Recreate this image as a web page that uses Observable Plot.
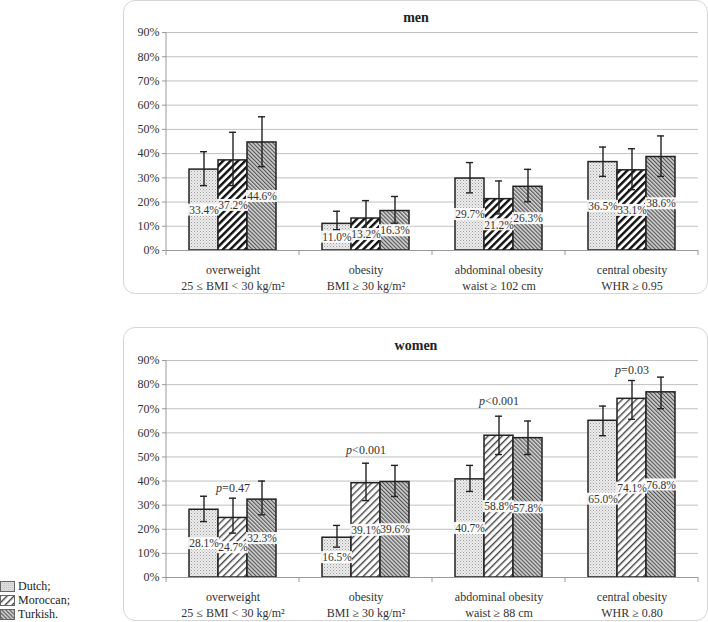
<!DOCTYPE html>
<html><head><meta charset="utf-8">
<script src="https://cdn.jsdelivr.net/npm/d3@7"></script>
<script src="https://cdn.jsdelivr.net/npm/@observablehq/plot@0.6"></script>
<style>
body{margin:0;background:#fff;font-family:"Liberation Serif",serif;}
#root{position:relative;width:708px;height:622px;overflow:hidden;background:#fff;}
.box{position:absolute;border:1px solid #d6d6d6;border-radius:12px;box-sizing:border-box;}
.title{position:absolute;font-weight:bold;font-size:14px;color:#222;transform:translate(-50%,-50%);white-space:nowrap;}
.chart{position:absolute;}
.lg{position:absolute;left:0;font-size:12px;color:#222;display:flex;align-items:center;white-space:nowrap;}
.lg svg{margin-right:2px;}
</style></head><body>
<svg width="0" height="0" style="position:absolute">
<defs>
<pattern id="dots" patternUnits="userSpaceOnUse" width="3" height="3">
  <rect width="3" height="3" fill="#ededed"/>
  <rect x="0" y="0" width="1" height="1" fill="#9a9a9a"/>
  <rect x="1.5" y="1.5" width="1" height="1" fill="#b4b4b4"/>
</pattern>
<pattern id="swDutch" patternUnits="userSpaceOnUse" width="2" height="2">
  <rect width="2" height="2" fill="#dcdcdc"/>
  <rect width="1" height="1" fill="#c8c8c8"/>
</pattern>
<pattern id="stripesMen" patternUnits="userSpaceOnUse" width="5.2" height="5.2" patternTransform="rotate(45)">
  <rect width="5.2" height="5.2" fill="#ffffff"/>
  <rect width="2.4" height="5.2" fill="#111111"/>
</pattern>
<pattern id="stripesWomen" patternUnits="userSpaceOnUse" width="5" height="5" patternTransform="rotate(45)">
  <rect width="5" height="5" fill="#ffffff"/>
  <rect width="1.4" height="5" fill="#444444"/>
</pattern>
<pattern id="hatchT" patternUnits="userSpaceOnUse" width="2.8" height="2.8" patternTransform="rotate(-45)">
  <rect width="2.8" height="2.8" fill="#d6d6d6"/>
  <rect width="1.2" height="2.8" fill="#555555"/>
</pattern>
</defs>
</svg>
<div id="root"></div>
<script>
// ---------- data ----------
const categories = ["overweight", "obesity", "abdominal", "central"];
const groups = ["Dutch", "Moroccan", "Turkish"];
const legendLabels = ["Dutch;", "Moroccan;", "Turkish."];
const menCategoryLabels = [
  "overweight\n25 ≤ BMI < 30 kg/m²",
  "obesity\nBMI ≥ 30 kg/m²",
  "abdominal obesity\nwaist ≥ 102 cm",
  "central obesity\nWHR ≥ 0.95"
];
const womenCategoryLabels = [
  "overweight\n25 ≤ BMI < 30 kg/m²",
  "obesity\nBMI ≥ 30 kg/m²",
  "abdominal obesity\nwaist ≥ 88 cm",
  "central obesity\nWHR ≥ 0.80"
];
const yTicks = [0, 10, 20, 30, 40, 50, 60, 70, 80, 90];

const menDutch = [33.4, 11.0, 29.7, 36.5];
const menMoroccan = [37.2, 13.2, 21.2, 33.1];
const menTurkish = [44.6, 16.3, 26.3, 38.6];
const menDutchLow = [26.8, 8.6, 23.8, 30.6];
const menDutchHigh = [40.8, 16.2, 36.3, 42.7];
const menMoroccanLow = [26.8, 8.0, 15.1, 25.1];
const menMoroccanHigh = [48.8, 20.6, 28.7, 42.0];
const menTurkishLow = [34.6, 11.3, 20.1, 30.6];
const menTurkishHigh = [55.2, 22.3, 33.5, 47.3];

const womenDutch = [28.1, 16.5, 40.7, 65.0];
const womenMoroccan = [24.7, 39.1, 58.8, 74.1];
const womenTurkish = [32.3, 39.6, 57.8, 76.8];
const womenDutchLow = [23.2, 12.6, 35.7, 58.8];
const womenDutchHigh = [33.7, 21.6, 46.5, 71.1];
const womenMoroccanLow = [18.4, 31.9, 51.0, 65.6];
const womenMoroccanHigh = [32.9, 47.4, 66.9, 81.7];
const womenTurkishLow = [26.0, 33.6, 51.0, 70.0];
const womenTurkishHigh = [40.0, 46.5, 64.9, 83.1];

const womenPText = ["=0.47", "<0.001", "<0.001", "=0.03"];
const womenPPosition = [37, 53, 73, 86];

// ---------- build ----------
function rowsOf(vals, lows, highs) {
  const rows = [];
  groups.forEach((g, gi) => categories.forEach((c, ci) => {
    rows.push({cat: c, group: g, value: vals[gi][ci], low: lows[gi][ci], high: highs[gi][ci]});
  }));
  return rows;
}
const menRows = rowsOf([menDutch, menMoroccan, menTurkish],
  [menDutchLow, menMoroccanLow, menTurkishLow], [menDutchHigh, menMoroccanHigh, menTurkishHigh]);
const womenRows = rowsOf([womenDutch, womenMoroccan, womenTurkish],
  [womenDutchLow, womenMoroccanLow, womenTurkishLow], [womenDutchHigh, womenMoroccanHigh, womenTurkishHigh]);

const FONT = "'Liberation Serif', 'Times New Roman', serif";
const ctx = document.createElement("canvas").getContext("2d");
function tw(s, italic) { ctx.font = (italic ? "italic " : "") + "12px " + FONT; return ctx.measureText(s).width; }

function panel({rows, labels, moroccanFill, marginTop, pTexts, pPos}) {
  const fills = {Dutch: "url(#dots)", Moroccan: moroccanFill, Turkish: "url(#hatchT)"};
  const labelOf = Object.fromEntries(categories.map((c, i) => [c, labels[i]]));
  const ink = "#222";
  const marks = [
    Plot.gridY(yTicks, {stroke: "#c2c2c2", strokeOpacity: 1}),
    ...groups.map(g => Plot.barY(rows.filter(r => r.group === g), {
      fx: "cat", x: "group", y: "value", fill: fills[g], stroke: ink, strokeWidth: 1.5
    })),
    Plot.ruleY([0], {stroke: "#9a9a9a"}),
    Plot.ruleX(rows, {fx: "cat", x: "group", y1: "low", y2: "high", stroke: ink, strokeWidth: 1.4}),
    Plot.tickY(rows, {fx: "cat", x: "group", y: "low", stroke: ink, strokeWidth: 1.4, insetLeft: 11, insetRight: 11}),
    Plot.tickY(rows, {fx: "cat", x: "group", y: "high", stroke: ink, strokeWidth: 1.4, insetLeft: 11, insetRight: 11}),
    Plot.barY(rows, {fx: "cat", x: "group", y1: r => r.value / 2, y2: r => r.value / 2,
      insetTop: -6, insetBottom: -6, insetLeft: -1, insetRight: -1, fill: "white", fillOpacity: 0.92}),
    Plot.text(rows, {fx: "cat", x: "group", y: r => r.value / 2, text: r => r.value.toFixed(1) + "%",
      fontSize: 11.5, fill: "#333"}),
    Plot.axisY({ticks: yTicks, tickFormat: d => d + "%", tickSize: 4, tickPadding: 3, fontSize: 12,
      stroke: "#9a9a9a", fill: "#333", label: null}),
    Plot.axisFx({anchor: "bottom", tickSize: 0, tickPadding: 12, tickFormat: c => labelOf[c], fontSize: 12,
      lineHeight: 1.33, fill: "#333", label: null})
  ];
  if (pTexts) {
    categories.forEach((c, i) => {
      const d = [{cat: c, y: pPos[i]}];
      const dx = (tw("p", true) - tw(pTexts[i], false)) / 2;
      marks.push(Plot.text(d, {fx: "cat", y: "y", text: () => "p", fontStyle: "italic", textAnchor: "end",
        dx, fontSize: 12, fill: "#333"}));
      marks.push(Plot.text(d, {fx: "cat", y: "y", text: () => pTexts[i], textAnchor: "start",
        dx, fontSize: 12, fill: "#333"}));
    });
  }
  const svg = Plot.plot({
    width: 585, height: 294,
    marginLeft: 41, marginRight: 9, marginTop, marginBottom: 44,
    style: {fontFamily: FONT, fontSize: "12px", color: "#333", background: "transparent"},
    fx: {domain: categories, padding: 0},
    x: {domain: groups, paddingInner: 0, paddingOuter: 0.733, axis: null},
    y: {domain: [0, 90], axis: null},
    marks
  });
  // axis line and category-boundary ticks, positioned with the plot's own scales
  const fx = svg.scale("fx"), y = svg.scale("y");
  const y0 = y.apply(0), yTop = y.apply(90);
  const xs = fx.domain.map(d => fx.apply(d));
  xs.push(xs[xs.length - 1] + fx.bandwidth);
  const g = d3.select(svg).append("g").attr("stroke", "#9a9a9a");
  xs.forEach(x => g.append("line").attr("x1", x).attr("x2", x).attr("y1", y0).attr("y2", y0 + 5));
  g.append("line").attr("x1", xs[0]).attr("x2", xs[0]).attr("y1", yTop).attr("y2", y0);
  return svg;
}

const root = document.getElementById("root");
function addBox(top) {
  const b = document.createElement("div");
  b.className = "box";
  Object.assign(b.style, {left: "123px", top: top + "px", width: "585px", height: "294px"});
  root.appendChild(b);
}
function addTitle(text, top) {
  const t = document.createElement("div");
  t.className = "title"; t.textContent = text;
  Object.assign(t.style, {left: "416px", top: top + "px"});
  root.appendChild(t);
}
function addChart(svg, top) {
  svg.classList.add("chart");
  Object.assign(svg.style, {left: "123px", top: top + "px"});
  root.appendChild(svg);
}

addBox(0);
addChart(panel({rows: menRows, labels: menCategoryLabels, moroccanFill: "url(#stripesMen)", marginTop: 32}), 0);
addTitle("men", 18);

addBox(327);
addChart(panel({rows: womenRows, labels: womenCategoryLabels, moroccanFill: "url(#stripesWomen)", marginTop: 33,
  pTexts: womenPText, pPos: womenPPosition}), 327);
addTitle("women", 346);

// legend
const legendFills = ["url(#swDutch)", "url(#stripesWomen)", "url(#hatchT)"];
legendLabels.forEach((lab, i) => {
  const d = document.createElement("div");
  d.className = "lg";
  d.style.top = (579 + i * 14) + "px";
  d.innerHTML = `<svg width="16" height="12"><rect x="0.5" y="0.5" width="14" height="10" fill="${legendFills[i]}" stroke="#666"/></svg>${lab}`;
  root.appendChild(d);
});
</script>
</body></html>
